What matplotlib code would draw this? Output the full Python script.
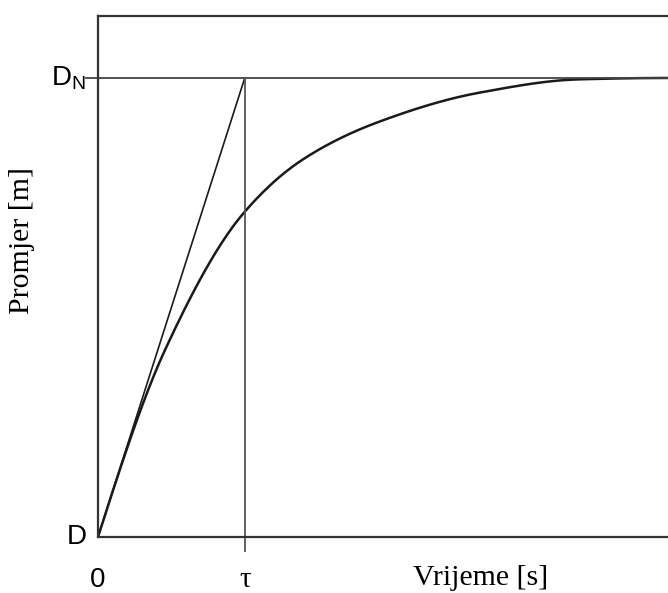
import matplotlib

matplotlib.use("Agg")
import matplotlib.pyplot as plt
import numpy as np

# --- data (time in units of tau, diameter as fraction of D_N) ---------------
t_curve = [0.0, 0.456, 0.993, 1.408, 1.918, 2.599, 3.279, 3.884]
d_curve = [0.0, 0.407, 0.706, 0.825, 0.905, 0.968, 0.997, 1.0]
tangent_t = [0.0, 1.0]
tangent_d = [0.0, 1.0]
tau = 1.0
d_n = 1.0
x_max = 3.884
y_max = 1.135


def pchip(x, y, xs, m0=None):
    """Monotone cubic (Fritsch-Carlson) through the read-off points."""
    x, y = np.asarray(x, float), np.asarray(y, float)
    h = np.diff(x)
    dl = np.diff(y) / h
    m = np.zeros_like(y)
    for k in range(1, len(x) - 1):
        if dl[k - 1] * dl[k] > 0:
            w1 = 2 * h[k] + h[k - 1]
            w2 = h[k] + 2 * h[k - 1]
            m[k] = (w1 + w2) / (w1 / dl[k - 1] + w2 / dl[k])
    m[0] = dl[0] if m0 is None else m0
    m[-1] = 0.0
    i = np.clip(np.searchsorted(x, xs) - 1, 0, len(h) - 1)
    s = (xs - x[i]) / h[i]
    h00 = 2 * s**3 - 3 * s**2 + 1
    h10 = s**3 - 2 * s**2 + s
    h01 = -2 * s**3 + 3 * s**2
    h11 = s**3 - s**2
    return h00 * y[i] + h10 * h[i] * m[i] + h01 * y[i + 1] + h11 * h[i] * m[i + 1]


W, H = 668, 593
fig = plt.figure(figsize=(W / 100, H / 100), dpi=100)
ax = fig.add_axes([98 / W, (H - 537) / H, (668 - 98) / W, (537 - 16) / H])

ts = np.linspace(0, x_max, 500)
start_slope = (tangent_d[1] - tangent_d[0]) / (tangent_t[1] - tangent_t[0])
ink = "#1a1a1a"
ax.plot(ts, pchip(t_curve, d_curve, ts, m0=start_slope), color=ink, lw=1.8)
ax.plot(tangent_t, tangent_d, color=ink, lw=1.2)
# D_N level, slightly past the axis on the left
ax.plot([-12 / 147, x_max], [d_n, d_n], color="#444444", lw=1.3,
        clip_on=False)
# tau marker, from D_N down past the time axis
ax.plot([tau, tau], [-14 / 459, d_n], color="#555555", lw=1.3,
        clip_on=False)

ax.set_xlim(0, x_max)
ax.set_ylim(0, y_max)
ax.set_xticks([])
ax.set_yticks([])
for side in ("left", "top", "bottom"):
    ax.spines[side].set_linewidth(1.6)
    ax.spines[side].set_color("#333333")
ax.spines["right"].set_visible(False)

sans = "Liberation Sans"
serif = "Liberation Serif"
ax.text(-0.08, 1.0, r"D$_\mathregular{N}$", ha="right", va="center",
        fontsize=20, family=sans)
ax.text(-0.08, 0.0, "D", ha="right", va="center", fontsize=20, family=sans)
ax.text(0.0, -0.065, "0", ha="center", va="top", fontsize=20, family=sans)
ax.text(tau, -0.065, "τ", ha="center", va="top", fontsize=21, family=serif)
ax.text(2.605, -0.06, "Vrijeme [s]", ha="center", va="top", fontsize=21.5,
        family=serif)
fig.text(22 / W, 1 - 240 / H, "Promjer [m]", rotation=90, ha="center",
         va="center", fontsize=21.5, family=serif)

fig.savefig("out.png", dpi=100)
